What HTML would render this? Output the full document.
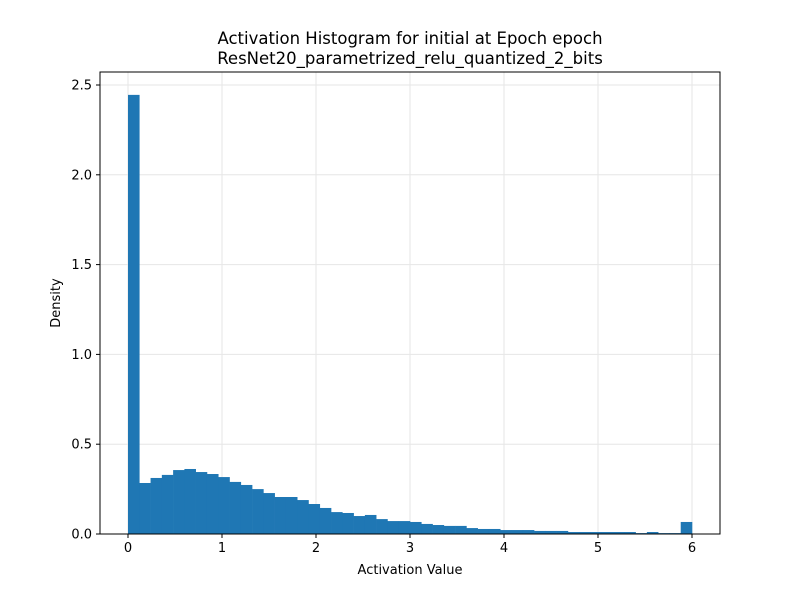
<!DOCTYPE html>
<html><head><meta charset="utf-8"><style>
body{margin:0;background:#fff;font-family:"Liberation Sans","DejaVu Sans",sans-serif}
</style></head><body>
<svg id="chart" width="800" height="600" xmlns="http://www.w3.org/2000/svg" font-family="'DejaVu Sans','Liberation Sans',sans-serif">
<rect width="800" height="600" fill="#fff"/>
<text x="410" y="44" text-anchor="middle" font-size="16.5">Activation Histogram for initial at Epoch epoch</text>
<text x="410" y="64" text-anchor="middle" font-size="16.5">ResNet20_parametrized_relu_quantized_2_bits</text>
<g id="grid"></g><g id="bars"></g><g id="axes"></g>
<text x="410" y="574" text-anchor="middle" font-size="13">Activation Value</text>
<text transform="translate(60,303) rotate(-90)" text-anchor="middle" font-size="13">Density</text>
</svg>
<script>
const binStart = 0, binWidth = 0.12;
const densities = [2.445,0.284,0.312,0.329,0.356,0.362,0.345,0.334,0.317,0.29,0.273,0.25,0.228,0.206,0.206,0.189,0.167,0.145,0.122,0.117,0.1,0.106,0.083,0.072,0.072,0.067,0.056,0.05,0.045,0.045,0.033,0.028,0.028,0.022,0.022,0.022,0.017,0.017,0.017,0.011,0.011,0.011,0.011,0.011,0.011,0.005,0.011,0.005,0.005,0.067];
const xTicks = [0,1,2,3,4,5,6];
const yTicks = [0,0.5,1.0,1.5,2.0,2.5];
const yTickLabels = ["0.0","0.5","1.0","1.5","2.0","2.5"];
const L=100,R=720,T=72,B=534;
const xs=v=>128+v*94;
const ys=v=>B-v*179.6;
const NS="http://www.w3.org/2000/svg";
function mk(tag,attrs,parent){const e=document.createElementNS(NS,tag);for(const k in attrs)e.setAttribute(k,attrs[k]);document.getElementById(parent).appendChild(e);return e;}
xTicks.forEach(t=>{
  const g=mk('line',{x1:xs(t),x2:xs(t),y1:T,y2:B,stroke:'#e6e6e6','stroke-width':1},'grid');
  
  
  const tk=mk('line',{x1:xs(t),x2:xs(t),y1:B,y2:B+4,stroke:'#000'},'axes');
  
  
  const tx=mk('text',{x:xs(t),y:B+18,'text-anchor':'middle','font-size':13},'axes');
  tx.textContent=t;
  
  
});
yTicks.forEach((t,i)=>{
  const g=mk('line',{x1:L,x2:R,y1:ys(t),y2:ys(t),stroke:'#e6e6e6','stroke-width':1},'grid');
  
  
  const tk=mk('line',{x1:L-4,x2:L,y1:ys(t),y2:ys(t),stroke:'#000'},'axes');
  
  
  const tx=mk('text',{x:L-8,y:ys(t)+4.5,'text-anchor':'end','font-size':13},'axes');
  tx.textContent=yTickLabels[i];
  
  
});
densities.forEach((d,i)=>{
  const x0=xs(binStart+i*binWidth), x1=xs(binStart+(i+1)*binWidth);
  const r=mk('rect',{x:x0,y:ys(d),width:x1-x0+0.3,height:B-ys(d),fill:'#1f77b4'},'bars');
  
  
});
const fr=mk('rect',{x:L,y:T,width:R-L,height:B-T,fill:'none',stroke:'#000','stroke-width':1},'axes');


</script>
</body></html>
